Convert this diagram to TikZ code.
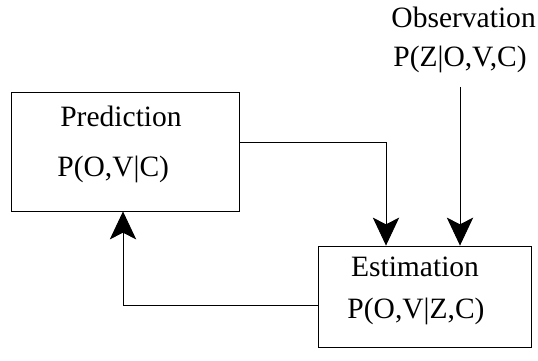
\documentclass[tikz,border=0pt]{standalone}
\usepackage{fontspec}
\setmainfont{Liberation Serif}
\usetikzlibrary{arrows.meta}
\begin{document}
\begin{tikzpicture}[line width=0.6pt,node font=\fontsize{21}{25}\selectfont,
    box/.style={draw,inner sep=0pt},
    flow/.style={-{Stealth[length=0.7cm,width=0.66cm,inset=0.17cm]}}]
            \useasboundingbox (0,0) rectangle (13.45,9);
            \node [box,minimum width=5.7cm,minimum height=2.975cm] (pred) at (3.125,5.2125) {};
            \node [box,minimum width=5.325cm,minimum height=2.525cm] (est) at (10.6125,1.5875) {};
            \node [anchor=base] (predname) at (3.025,5.84) {Prediction};
            \node [anchor=base] (predform) at (2.83,4.575) {P(O,V|C)};
            \node [anchor=base] (estname) at (10.375,2.09) {Estimation};
            \node [anchor=base] (estform) at (10.4,1.05) {P(O,V|Z,C)};
            \node [anchor=base] (obsname) at (11.59,8.3) {Observation};
            \node [anchor=base] (obsform) at (11.5,7.33) {P(Z|O,V,C)};
            \coordinate (obsend) at (11.5,6.825);
            \draw [flow] (obsend) -- (obsend |- est.north);
            \draw [flow] ([yshift=0.2375cm]pred.east) -| ([xshift=-0.9625cm]est.north);
            \draw [flow] ([yshift=-0.2125cm]est.west) -| ([xshift=-0.05cm]pred.south);
        \end{tikzpicture}
\end{document}
